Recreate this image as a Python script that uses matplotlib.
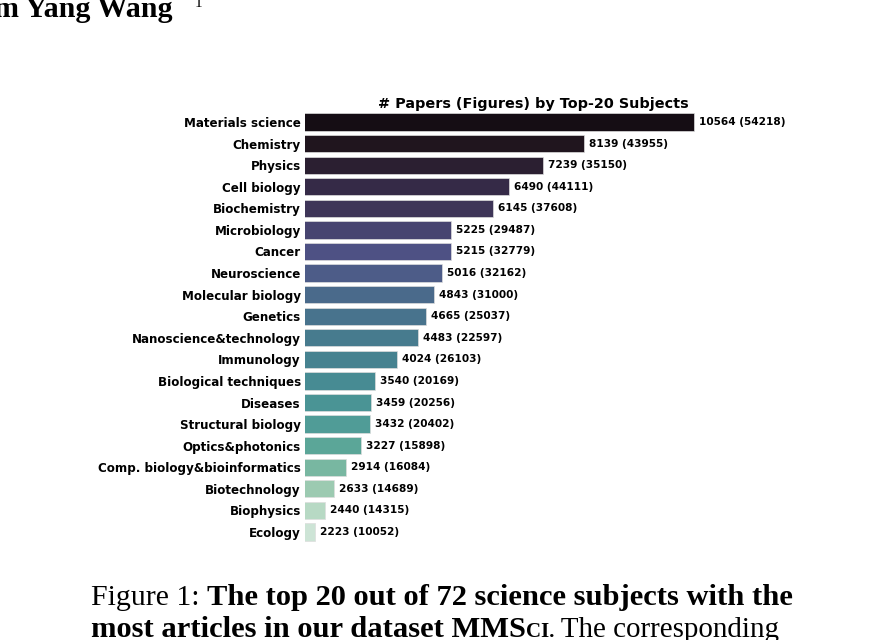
import matplotlib
matplotlib.use("Agg")
import matplotlib.pyplot as plt

subjects = [
    "Materials science", "Chemistry", "Physics", "Cell biology", "Biochemistry",
    "Microbiology", "Cancer", "Neuroscience", "Molecular biology", "Genetics",
    "Nanoscience&technology", "Immunology", "Biological techniques", "Diseases",
    "Structural biology", "Optics&photonics", "Comp. biology&bioinformatics",
    "Biotechnology", "Biophysics", "Ecology",
]
papers = [10564, 8139, 7239, 6490, 6145, 5225, 5215, 5016, 4843, 4665,
          4483, 4024, 3540, 3459, 3432, 3227, 2914, 2633, 2440, 2223]
figures = [54218, 43955, 35150, 44111, 37608, 29487, 32779, 32162, 31000, 25037,
           22597, 26103, 20169, 20256, 20402, 15898, 16084, 14689, 14315, 10052]

# palette sampled from the original (dark purple -> blue -> teal -> pale green)
palette = ["#150d14", "#20151e", "#2b1f31", "#352a47", "#3e3558",
           "#474470", "#4e5184", "#4d5c88", "#4a6a8b", "#48738d",
           "#477b8e", "#468290", "#478b93", "#4a9495", "#509c97",
           "#5ba698", "#78b7a1", "#9ccab1", "#b7d9c4", "#cde4d6"]

W, H = 883, 640
fig = plt.figure(figsize=(W / 100, H / 100), dpi=100)
fig.patch.set_facecolor("white")

ax = fig.add_axes([305 / W, 1 - 542.8 / H, (761 - 305) / W, (542.8 - 111.2) / H])
ypos = list(range(len(subjects)))
ax.barh(ypos, papers, height=0.8, color=palette, edgecolor="#dddddd", linewidth=0.5)
ax.set_ylim(len(subjects) - 0.5, -0.5)
# x axis does not start at zero in the original
ax.set_xlim(min(papers) * 0.9, max(papers) * 1.14)
ax.set_yticks(ypos)
ax.set_yticklabels(subjects, fontsize=8.6, fontweight="bold")
ax.tick_params(axis="y", length=0, pad=3)
ax.set_xticks([])
for s in ax.spines.values():
    s.set_visible(False)
for y, p, f in zip(ypos, papers, figures):
    ax.annotate(f"{p} ({f})", (p, y), xytext=(3.6, 0), textcoords="offset points",
                va="center", ha="left", fontsize=7.6, fontweight="bold")
ax.set_title("# Papers (Figures) by Top-20 Subjects", fontsize=10.4, fontweight="bold", pad=2.5)

# surrounding paper text
serif = "Liberation Serif"
fig.text(173 / W, 1 - 17 / H, "m Yang Wang", ha="right", va="baseline",
         family=serif, fontweight="bold", fontsize=21.6)
fig.text(195 / W, 1 - 7 / H, "1", ha="left", va="baseline", family=serif, fontsize=11)

renderer = fig.canvas.get_renderer()


def run(x, y, parts):
    for txt, kw in parts:
        t = fig.text(x / W, 1 - y / H, txt, ha="left", va="baseline", family=serif, **kw)
        x += t.get_window_extent(renderer).width


run(91, 605, [("Figure 1: ", dict(fontsize=21.5)),
              ("The top 20 out of 72 science subjects with the", dict(fontsize=21.95, fontweight="bold"))])
run(91, 637, [("most articles in our dataset MMS", dict(fontsize=21.95, fontweight="bold")),
              ("CI.", dict(fontsize=15, fontweight="bold")),
              (" The corresponding", dict(fontsize=20.9))])

fig.savefig("out.png", dpi=100)
